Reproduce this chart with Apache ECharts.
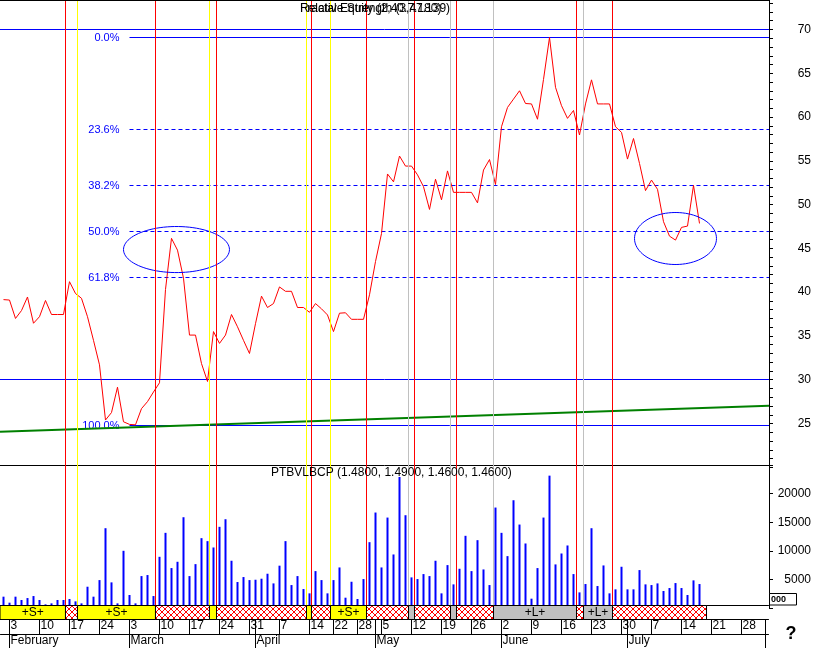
<!DOCTYPE html>
<html><head><meta charset="utf-8">
<script src="https://cdn.jsdelivr.net/npm/echarts@6.0.0/dist/echarts.min.js"></script>
<style>html,body{margin:0;padding:0;background:#fff}#c{width:816px;height:648px}</style>
</head><body><div id="c"></div>
<script>
// ---------- DATA ----------
const tradingStart = '2003-01-31';
const tradingEnd = '2003-08-01';
const holidays = ['2003-04-18', '2003-04-21', '2003-05-01'];
const monthNames = ['January','February','March','April','May','June','July','August','September','October','November','December'];

const closePrices = [
  39.15, 39.1, 37.0, 37.9, 39.45, 36.45, 37.2, 39.05, 37.45, 37.45,
  37.45, 41.2, 39.85, 39.3, 37.2, 34.5, 31.7, 25.4, 26.25, 29.15,
  25.2, 24.9, 24.85, 26.7, 27.5, 28.6, 29.65, 40.3, 46.15, 44.8,
  41.6, 35.1, 35.1, 31.85, 29.8, 35.5, 34.15, 35.1, 37.45, 36.05,
  34.5, 33.0, 36.4, 39.55, 38.25, 38.7, 40.6, 40.1, 40.1, 38.25,
  38.25, 37.7, 38.7, 38.1, 37.4, 35.5, 37.6, 37.65, 36.9, 36.9,
  36.9, 39.7, 43.5, 46.7, 53.5, 52.6, 55.55, 54.4, 54.4, 53.4,
  52.05, 49.45, 52.9, 50.55, 53.85, 51.4, 51.4, 51.4, 51.4, 50.2,
  53.95, 55.15, 52.3, 58.9, 61.1, 62.05, 63.0, 61.55, 61.5, 59.75,
  64.3, 69.09, 63.4, 61.3, 59.85, 60.75, 57.95, 61.5, 64.25, 61.5,
  61.5, 61.5, 58.9, 58.25, 55.2, 57.55, 54.7, 51.6, 52.8, 51.75,
  48.05, 46.4, 45.95, 47.4, 47.55, 52.2, 47.85
];

const volumes = [
  1980, 930, 1980, 1400, 1740, 2090, 1400, 640, 810, 1400,
  1400, 1570, 1160, 810, 3720, 1980, 4880, 13950, 4480, 810,
  10000, 2270, 810, 5580, 5760, 2090, 8950, 13140, 6980, 8080,
  15870, 5580, 7670, 12210, 11690, 10580, 14190, 15520, 8260, 4540,
  5410, 4880, 4940, 5120, 5990, 4300, 7400, 11690, 4010, 5580,
  3310, 2560, 6450, 4880, 2560, 4880, 7090, 1800, 4590, 1570,
  5060, 11510, 16690, 7090, 15810, 9360, 22910, 16220, 5350, 5060,
  5930, 5580, 8260, 2560, 7500, 4130, 6860, 12620, 6450, 11860,
  6740, 4010, 17560, 13140, 9070, 18840, 14590, 11280, 1630, 6980,
  15810, 23140, 7620, 9530, 10930, 5930, 2730, 4190, 13950, 3840,
  7440, 2560, 3260, 7210, 3260, 3260, 6630, 4130, 4010, 4300,
  2970, 3490, 4360, 3490, 2270, 4830, 4190
];

// long trend line (day index, value)
const trendLine = [[-0.5833, 24.07], [127.5833, 27.02]];

// Fibonacci retracement
const fibStartDay = 21;
const fibHigh = 69.09;
const fibLow = 24.77;
const fibLevels = [0, 23.6, 38.2, 50, 61.8, 100];

// horizontal reference lines
const levelLines = [70, 30];

// annotation ellipses: [centre day, centre value, half-width days, half-height value]
const ellipses = [[28.83, 44.87, 8.83, 2.63], [112.0, 46.13, 6.83, 2.97]];

// status band segments (boundaries in day index)
const bandBounds = [-0.5833, 10.33, 12.33, 25.33, 34.33, 35.5, 50.5, 51.33, 54.5, 60.5, 67.5, 68.5, 74.5, 75.5, 81.67, 95.5, 96.67, 101.5, 117.17];
const bandTypes  = ['S','X','S','X','S','X','S','X','S','X','L','X','L','X','L','X','L','X'];
const bandLabels = ['+S+','','+S+','','','','','','+S+','','','','','','+L+','','+L+',''];

// ---------- CALENDAR ----------
function fmt(d){ return d.toISOString().slice(0,10); }
const days = [];
for (let d = new Date(tradingStart + 'T00:00:00Z'); fmt(d) <= tradingEnd; d.setUTCDate(d.getUTCDate() + 1)) {
  const wd = d.getUTCDay();
  if (wd === 0 || wd === 6) continue;
  if (holidays.indexOf(fmt(d)) >= 0) continue;
  days.push(fmt(d));
}
const dObj = days.map(s => new Date(s + 'T00:00:00Z'));
const weekStart = days.map((s, i) => i > 0 && (dObj[i].getUTCDay() < dObj[i-1].getUTCDay() || (dObj[i] - dObj[i-1]) >= 7 * 864e5));
const monthStart = days.map((s, i) => i > 0 && dObj[i].getUTCMonth() !== dObj[i-1].getUTCMonth());
const lastIdx = days.length - 1;

// ---------- LAYOUT CONSTANTS ----------
const xMin = -0.5833, xMax = 127.5833;
const FONT = '"Liberation Sans", Arial, sans-serif';
const BLUE = '#0000FF';

// hatch pattern
const hatch = document.createElement('canvas');
hatch.width = 6; hatch.height = 6;
const hc = hatch.getContext('2d');
hc.fillStyle = '#FFFFFF'; hc.fillRect(0, 0, 6, 6);
hc.fillStyle = '#FF0000';
for (let k = 0; k < 6; k++) { hc.fillRect(k, k, 1, 1); hc.fillRect(5 - k, k, 1, 1); }

const lineColorFor = { X: '#FF0000', S: '#FFFF00', L: '#C0C0C0' };
const vLines = bandBounds.slice(1, -1).map((b, k) => ({
  xAxis: b, lineStyle: { color: lineColorFor[bandTypes[k + 1]], type: 'solid', width: 1 }
}));

// horizontal lines: [startDay, value, labelIndex(-1 none), dashed(0/1)]
const hLineData = [].concat(
  levelLines.map(v => [xMin, v, -1, 0]),
  fibLevels.map((p, k) => [fibStartDay, fibHigh - p / 100 * (fibHigh - fibLow), k, (p === 0 || p === 100) ? 0 : 1])
);
function crisp(v) { return Math.round(v - 0.5) + 0.5; }
function hLineRender(params, api) {
  const a = api.coord([api.value(0), api.value(1)]);
  const b = api.coord([xMax, api.value(1)]);
  const y = crisp(a[1]);
  const children = [{ type: 'line', shape: { x1: a[0], y1: y, x2: b[0], y2: y },
    style: { stroke: BLUE, lineWidth: 1, lineDash: api.value(3) ? [4, 3] : null } }];
  const li = api.value(2);
  if (li >= 0) {
    children.push({ type: 'text', style: { text: fibLevels[li].toFixed(1) + '%', x: a[0] - 10, y: y + 0.5, align: 'right', verticalAlign: 'middle', fill: BLUE, font: '11px ' + FONT } });
  }
  return { type: 'group', children: children };
}

function ellipseRender(params, api) {
  const c = api.coord([api.value(0), api.value(1)]);
  const s = api.size([api.value(2), api.value(3)]);
  const pts = [];
  for (let a = 0; a <= 90; a++) {
    const t = a / 90 * 2 * Math.PI;
    pts.push([c[0] + s[0] * Math.cos(t), c[1] + s[1] * Math.sin(t)]);
  }
  return { type: 'polygon', shape: { points: pts }, style: { fill: 'none', stroke: BLUE, lineWidth: 1 } };
}

function bandRender(params, api) {
  const k = api.value(2);
  const p0 = api.coord([api.value(0), 1]);
  const p1 = api.coord([api.value(1), 0]);
  const t = bandTypes[k];
  const fill = t === 'S' ? '#FFFF00' : t === 'L' ? '#C0C0C0' : { image: hatch, repeat: 'repeat' };
  const x = p0[0], w = p1[0] - p0[0], y = p0[1] + 0.5, h = p1[1] - p0[1];
  const children = [{ type: 'rect', shape: { x: x, y: y, width: w, height: h }, style: { fill: fill, stroke: '#000', lineWidth: 1 } }];
  if (bandLabels[k]) {
    children.push({ type: 'text', style: { text: bandLabels[k], x: x + w / 2, y: y + h / 2 + 0.5, align: 'center', verticalAlign: 'middle', fill: '#000', font: '12px ' + FONT } });
  }
  return { type: 'group', children: children };
}

const chart = echarts.init(document.getElementById('c'), null, { renderer: 'canvas' });
chart.setOption({
  animation: false,
  backgroundColor: '#FFFFFF',
  textStyle: { fontFamily: FONT },
  title: [
    { text: 'Relative Strength (3,47.139)', left: 300, top: 3, padding: 0, textStyle: { fontSize: 12, fontWeight: 'normal', color: '#000', fontFamily: FONT } },
    { text: 'Fractal Equity (2,40.7.180)', left: 300, top: 3, padding: 0, textStyle: { fontSize: 12, fontWeight: 'normal', color: '#000', fontFamily: FONT } },
    { text: 'PTBVLBCP (1.4800, 1.4900, 1.4600, 1.4600)', left: 271, top: 467, padding: 0, textStyle: { fontSize: 12, fontWeight: 'normal', color: '#000', fontFamily: FONT } }
  ],
  grid: [
    { left: 0, width: 769, top: -14.28, height: 481.58, outerBoundsMode: 'none' },
    { left: 0, width: 769, top: 465, height: 143, outerBoundsMode: 'none' },
    { left: 0.5, width: 768, top: 605, height: 14, outerBoundsMode: 'none' }
  ],
  xAxis: [
    { gridIndex: 0, type: 'value', min: xMin, max: xMax, show: false },
    { gridIndex: 1, type: 'value', min: xMin, max: xMax, position: 'top',
      axisLine: { show: true, onZero: false, lineStyle: { color: '#000', width: 1 } },
      axisTick: { show: false }, axisLabel: { show: false }, splitLine: { show: false } },
    { gridIndex: 2, type: 'value', min: -0.5, max: 127.5, show: false },
    { gridIndex: 2, type: 'category', data: days, position: 'bottom', boundaryGap: true,
      axisLine: { show: true, onZero: false, lineStyle: { color: '#000', width: 1 } },
      axisTick: { show: true, alignWithLabel: true, length: 15, interval: (i) => weekStart[i] || monthStart[i], lineStyle: { color: '#000' } },
      axisLabel: { show: true, interval: (i) => weekStart[i], formatter: (v) => String(parseInt(v.slice(8), 10)), align: 'left', margin: 1, padding: [0, 0, 0, 1], color: '#000', fontSize: 12, fontFamily: FONT },
      splitLine: { show: false } },
    { gridIndex: 2, type: 'category', data: days, position: 'bottom', offset: 15, boundaryGap: true,
      axisLine: { show: true, onZero: false, lineStyle: { color: '#000', width: 1 } },
      axisTick: { show: true, alignWithLabel: true, length: 14, interval: (i) => monthStart[i], lineStyle: { color: '#000' } },
      axisLabel: { show: true, interval: (i) => monthStart[i] && i < lastIdx, formatter: (v) => monthNames[parseInt(v.slice(5, 7), 10) - 1], align: 'left', margin: 1, padding: [0, 0, 0, 1], color: '#000', fontSize: 12, fontFamily: FONT },
      splitLine: { show: false } },
    { gridIndex: 2, type: 'category', data: days, position: 'top', boundaryGap: true,
      axisLine: { show: true, onZero: false, lineStyle: { color: '#000', width: 1 } },
      axisTick: { show: false }, axisLabel: { show: false }, splitLine: { show: false } }
  ],
  yAxis: [
    { gridIndex: 0, type: 'value', position: 'right', min: 20, max: 75, interval: 5,
      axisLine: { show: true, onZero: false, lineStyle: { color: '#000', width: 1 } },
      axisTick: { show: true, length: 4, lineStyle: { color: '#000' } },
      minorTick: { show: true, splitNumber: 5, length: 4, lineStyle: { color: '#000' } },
      splitLine: { show: false }, minorSplitLine: { show: false },
      axisLabel: { align: 'right', margin: 42, color: '#000', fontSize: 12, fontFamily: FONT,
        formatter: (v) => (v >= 25 && v <= 70) ? String(v) : '' } },
    { gridIndex: 1, type: 'value', position: 'right', min: 0, max: 25000, interval: 5000,
      axisLine: { show: true, onZero: false, lineStyle: { color: '#000', width: 1 } },
      axisTick: { show: true, length: 4, lineStyle: { color: '#000' } },
      splitLine: { show: false },
      axisLabel: { align: 'right', margin: 42, color: '#000', fontSize: 12, fontFamily: FONT,
        formatter: (v) => (v > 0 && v < 25000) ? String(v) : '' } },
    { gridIndex: 2, type: 'value', min: 0, max: 1, show: false }
  ],
  series: [
    { type: 'line', name: 'trend', xAxisIndex: 0, yAxisIndex: 0, data: trendLine, symbol: 'none',
      lineStyle: { color: '#008000', width: 2 }, z: 2, silent: true },
    { type: 'custom', name: 'levels', xAxisIndex: 0, yAxisIndex: 0, data: hLineData, renderItem: hLineRender, clip: false, z: 2, silent: true },
    { type: 'line', name: 'close', xAxisIndex: 0, yAxisIndex: 0, data: closePrices.map((v, i) => [i, v]),
      symbol: 'none', showSymbol: false, lineStyle: { color: '#FF0000', width: 1 }, z: 3, silent: true,
      markLine: { silent: true, symbol: ['none', 'none'], label: { show: false }, animation: false, data: vLines } },
    { type: 'custom', name: 'ellipses', xAxisIndex: 0, yAxisIndex: 0, data: ellipses, renderItem: ellipseRender, clip: false, z: 4, silent: true },
    { type: 'bar', name: 'volume', xAxisIndex: 1, yAxisIndex: 1, data: volumes.map((v, i) => [i, v]), barWidth: 2,
      itemStyle: { color: '#0000FF' }, z: 2, silent: true,
      markLine: { silent: true, symbol: ['none', 'none'], label: { show: false }, animation: false, data: vLines } },
    { type: 'custom', name: 'band', xAxisIndex: 2, yAxisIndex: 2,
      data: bandTypes.map((t, k) => [bandBounds[k], bandBounds[k + 1], k]),
      renderItem: bandRender, clip: false, z: 6, silent: true }
  ],
  graphic: [
    { type: 'line', shape: { x1: 0, y1: 0.5, x2: 770, y2: 0.5 }, style: { stroke: '#000', lineWidth: 1 }, silent: true, z: 10 },
    { type: 'rect', shape: { x: 769.5, y: 593.5, width: 27, height: 11.5 }, style: { fill: '#fff', stroke: '#000', lineWidth: 1 }, silent: true, z: 10 },
    { type: 'text', style: { text: '000', x: 771, y: 599.5, verticalAlign: 'middle', font: 'bold 9px ' + FONT, fill: '#000' }, silent: true, z: 11 },
    { type: 'text', style: { text: '?', x: 791, y: 634, align: 'center', verticalAlign: 'middle', font: 'bold 18px ' + FONT, fill: '#000' }, silent: true, z: 11 }
  ]
});
</script>
</body></html>
